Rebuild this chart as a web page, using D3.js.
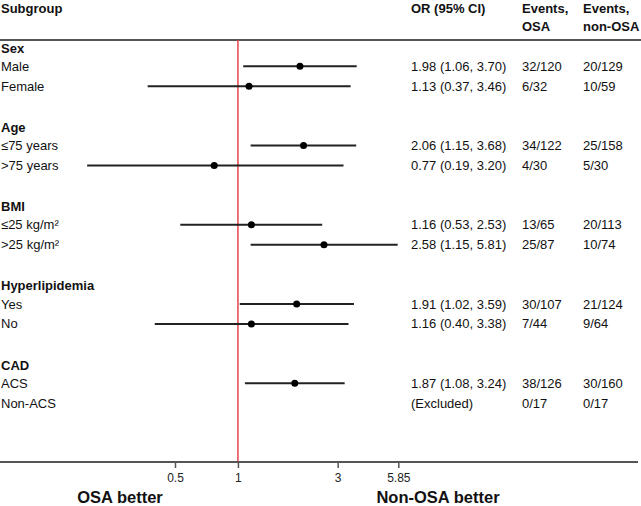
<!DOCTYPE html>
<html><head><meta charset="utf-8">
<script src="https://cdn.jsdelivr.net/npm/d3@7"></script>
<style>body{margin:0;background:#fff}svg{display:block;font-family:"Liberation Sans",Arial,sans-serif}</style>
</head><body><svg id="c" width="641" height="506"></svg>
<script>
const groups = ["Sex","Age","BMI","Hyperlipidemia","CAD"];
const subgroups = ["Male","Female","≤75 years",">75 years","≤25 kg/m²",">25 kg/m²","Yes","No","ACS","Non-ACS"];
const subgroupGroup = [0,0,1,1,2,2,3,3,4,4];
const orValues = [1.98,1.13,2.06,0.77,1.16,2.58,1.91,1.16,1.87,null];
const ciLow = [1.06,0.37,1.15,0.19,0.53,1.15,1.02,0.40,1.08,null];
const ciHigh = [3.70,3.46,3.68,3.20,2.53,5.81,3.59,3.38,3.24,null];
const eventsOSA = ["32/120","6/32","34/122","4/30","13/65","25/87","30/107","7/44","38/126","0/17"];
const eventsNonOSA = ["20/129","10/59","25/158","5/30","20/113","10/74","21/124","9/64","30/160","0/17"];
const tickValues = [0.5,1,3,5.85];
const excludedLabel = "(Excluded)";

const svg = d3.select("#c");
const x = d3.scaleLog().domain([0.5,5.85]).range([175,398.3]);
const y = d3.scaleLinear().domain([0,16]).range([48,365]);
const colOR = 411, colE1 = 522, colE2 = 583;
const fmt = d3.format(".2f");

// header
const hdr = svg.append("g").attr("font-size",13).attr("fill","#111");
hdr.append("text").attr("x",1).attr("y",8).attr("dy","0.35em").attr("font-weight","bold").text("Subgroup");
hdr.append("text").attr("x",colOR).attr("y",8).attr("dy","0.35em").attr("font-weight","bold").text("OR (95% CI)");
[[colE1,"Events,","OSA"],[colE2,"Events,","non-OSA"]].forEach(([cx,a,b])=>{
  hdr.append("text").attr("x",cx).attr("y",8).attr("dy","0.35em").attr("font-weight","bold").text(a);
  hdr.append("text").attr("x",cx).attr("y",26).attr("dy","0.35em").attr("font-weight","bold").text(b);
});
svg.append("line").attr("x1",0).attr("x2",641).attr("y1",40).attr("y2",40).attr("stroke","#555").attr("stroke-width",2);

// reference line
svg.append("line").attr("x1",x(1)).attr("x2",x(1)).attr("y1",40).attr("y2",462).attr("stroke","#e8434a").attr("stroke-width",1.5);

// group headers
svg.append("g").selectAll("text").data(groups).join("text")
  .attr("x",1).attr("y",(d,i)=>y(i*4)).attr("dy","0.35em")
  .attr("font-size",13).attr("font-weight","bold").attr("fill","#111").text(d=>d);

const rowY = i => { const g = subgroupGroup[i]; const k = subgroups.slice(0,i).filter((s,j)=>subgroupGroup[j]===g).length; return y(g*4+1+k)-1.5; };

const rows = svg.append("g").selectAll("g").data(subgroups).join("g");
rows.append("text").attr("x",1).attr("y",(d,i)=>rowY(i)).attr("dy","0.35em").attr("font-size",13).attr("fill","#111").text(d=>d);
rows.append("text").attr("x",colOR).attr("y",(d,i)=>rowY(i)).attr("dy","0.35em").attr("font-size",13).attr("fill","#111")
  .text((d,i)=>orValues[i]==null?excludedLabel:`${fmt(orValues[i])} (${fmt(ciLow[i])}, ${fmt(ciHigh[i])})`);
rows.append("text").attr("x",colE1).attr("y",(d,i)=>rowY(i)).attr("dy","0.35em").attr("font-size",13).attr("fill","#111").text((d,i)=>eventsOSA[i]);
rows.append("text").attr("x",colE2).attr("y",(d,i)=>rowY(i)).attr("dy","0.35em").attr("font-size",13).attr("fill","#111").text((d,i)=>eventsNonOSA[i]);
rows.filter((d,i)=>orValues[i]!=null).each(function(d){
  const i = subgroups.indexOf(d);
  const g = d3.select(this);
  g.append("line").attr("x1",x(ciLow[i])).attr("x2",x(ciHigh[i])).attr("y1",rowY(i)).attr("y2",rowY(i)).attr("stroke","#222").attr("stroke-width",2);
  g.append("circle").attr("cx",x(orValues[i])).attr("cy",rowY(i)).attr("r",3.5).attr("fill","#000");
});

// axis
const axis = svg.append("g").attr("transform","translate(0,462)");
axis.append("line").attr("x1",0).attr("x2",638).attr("stroke","#555").attr("stroke-width",2);
axis.call(g=>{
  const ax = d3.axisBottom(x).tickValues(tickValues).tickFormat(d=>String(d)).tickSize(6).tickSizeOuter(0);
  const gg = g.append("g").call(ax);
  gg.select(".domain").remove();
  gg.selectAll("line").attr("stroke","#555").attr("stroke-width",1.5);
  gg.selectAll("text").attr("font-size",12).attr("fill","#222").attr("font-family","Liberation Sans, Arial, sans-serif").attr("dy","0.9em");
});

svg.append("text").attr("x",120).attr("y",497).attr("dy","0.35em").attr("text-anchor","middle").attr("font-size",16.5).attr("font-weight","bold").attr("fill","#111").text("OSA better");
svg.append("text").attr("x",438).attr("y",497).attr("dy","0.35em").attr("text-anchor","middle").attr("font-size",16.5).attr("font-weight","bold").attr("fill","#111").text("Non-OSA better");
</script></body></html>
